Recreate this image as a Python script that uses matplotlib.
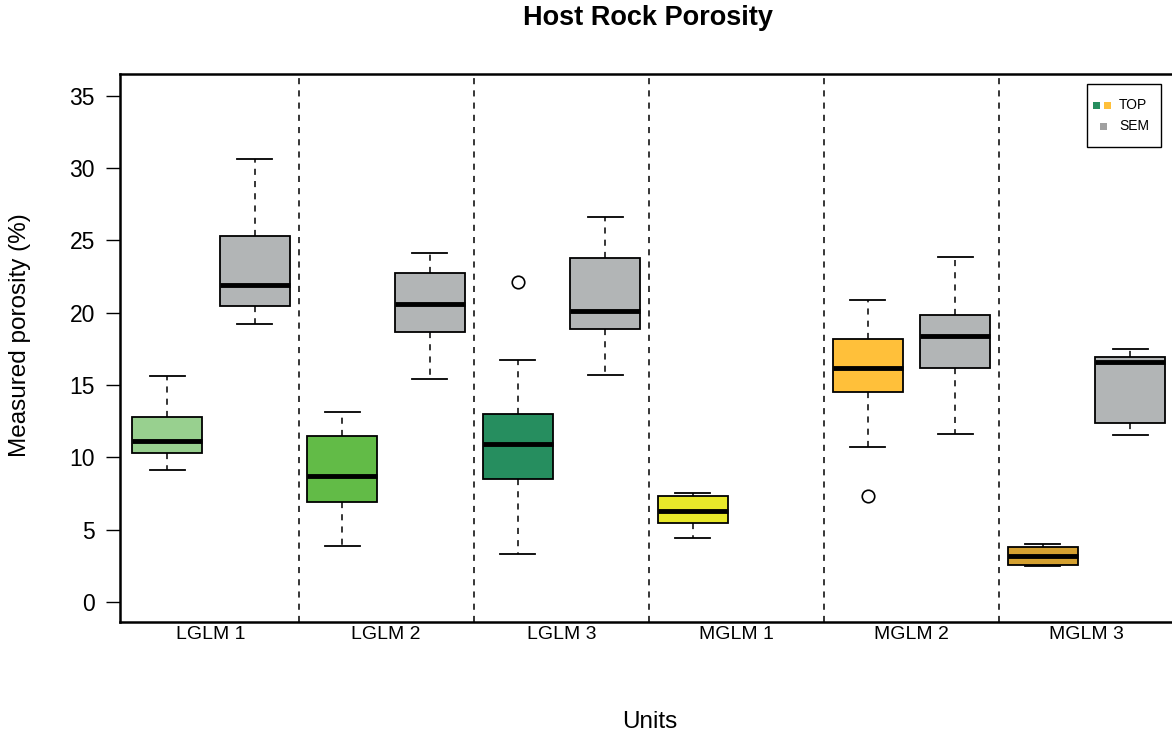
import matplotlib
matplotlib.use('Agg')
import matplotlib.pyplot as plt
from matplotlib.patches import Rectangle

plt.rcParams['font.family'] = ['Liberation Sans', 'DejaVu Sans']

# unit names along the x axis
units = ['LGLM 1', 'LGLM 2', 'LGLM 3', 'MGLM 1', 'MGLM 2', 'MGLM 3']
top_colors = ['#98d08f', '#62bb47', '#268e5f', '#e8e82a', '#ffc03a', '#d4a030']
sem_color = '#b2b5b6'

# TOP box statistics
top_whislo = [9.1, 3.85, 3.3, 4.4, 10.7, 2.5]
top_q1 = [10.3, 6.9, 8.5, 5.45, 14.5, 2.55]
top_med = [11.1, 8.7, 10.95, 6.3, 16.2, 3.2]
top_q3 = [12.8, 11.45, 13.0, 7.3, 18.2, 3.8]
top_whishi = [15.6, 13.15, 16.75, 7.55, 20.9, 4.0]
top_fliers = [[], [], [22.1], [], [7.3], []]

# SEM box statistics (no SEM data for MGLM 1)
sem_whislo = [19.2, 15.45, 15.7, None, 11.65, 11.55]
sem_q1 = [20.45, 18.7, 18.9, None, 16.2, 12.35]
sem_med = [21.9, 20.6, 20.15, None, 18.4, 16.6]
sem_q3 = [25.3, 22.75, 23.75, None, 19.85, 16.95]
sem_whishi = [30.6, 24.1, 26.6, None, 23.85, 17.5]
sem_fliers = [[], [], [], [], [], []]


def make_stats(lo, q1, med, q3, hi, fl):
    '''build the dicts that bxp wants'''
    stats = []
    for i in range(len(lo)):
        if lo[i] is None:
            stats.append(None)
        else:
            stats.append({'whislo': lo[i], 'q1': q1[i], 'med': med[i],
                          'q3': q3[i], 'whishi': hi[i], 'fliers': fl[i]})
    return stats


def draw(ax, stats, offset, colors):
    for i in range(len(stats)):
        if stats[i] is None:
            continue
        b = ax.bxp([stats[i]], positions=[i + 1 + offset], widths=0.4,
                   patch_artist=True, showcaps=True, manage_ticks=False,
                   boxprops=dict(facecolor=colors[i], edgecolor='black', linewidth=1.3),
                   medianprops=dict(color='black', linewidth=3.5, solid_capstyle='butt'),
                   whiskerprops=dict(color='black', linewidth=1.1, linestyle=(0, (4, 4))),
                   capprops=dict(color='black', linewidth=1.3),
                   flierprops=dict(marker='o', markerfacecolor='none',
                                   markeredgecolor='black', markersize=9,
                                   markeredgewidth=1.2))
        for c in b['caps']:
            x = c.get_xdata()
            m = (x[0] + x[1]) / 2
            c.set_xdata([m - 0.1, m + 0.1])


W, H = 1172, 737
fig = plt.figure(figsize=(W / 100, H / 100), dpi=100)
ax = fig.add_axes([0.1024, 0.156, 0.9016, 0.744])

draw(ax, make_stats(top_whislo, top_q1, top_med, top_q3, top_whishi, top_fliers), -0.25, top_colors)
draw(ax, make_stats(sem_whislo, sem_q1, sem_med, sem_q3, sem_whishi, sem_fliers), 0.25,
     [sem_color] * len(units))

# dashed separators between the units
for k in range(1, len(units)):
    ax.axvline(k + 0.5, color='black', linewidth=1.1, linestyle=(0, (4, 4)))

ax.set_xlim(0.48, 6.514)
ax.set_ylim(-1.38, 36.52)
ax.set_xticks(range(1, len(units) + 1))
ax.set_xticklabels(units, fontsize=14)
ax.set_yticks([0, 5, 10, 15, 20, 25, 30, 35])
ax.tick_params(axis='y', labelsize=16.5, length=10, width=1, direction='out', pad=8)
ax.tick_params(axis='x', length=0, pad=3)
for s in ['left', 'bottom', 'top']:
    ax.spines[s].set_linewidth(1.8)
ax.spines['right'].set_visible(False)

# titles placed in figure pixels
fig.text(648 / W, 1 - 18 / H, 'Host Rock Porosity', fontsize=19.5, fontweight='bold',
         ha='center', va='center')
fig.text(20 / W, 1 - 335 / H, 'Measured porosity (%)', fontsize=17.5, rotation=90,
         ha='center', va='center')
fig.text(650 / W, 1 - 722 / H, 'Units', fontsize=17.5, ha='center', va='center')

# legend drawn by hand
fig.add_artist(Rectangle((1087 / W, 1 - 147 / H), 74 / W, 63 / H, transform=fig.transFigure,
                         facecolor='white', edgecolor='black', linewidth=1.0, zorder=5))
for px, py, col in [(1096, 105, '#268e5f'), (1107.5, 105, '#ffc03a'), (1103, 126.5, '#a0a0a0')]:
    fig.add_artist(Rectangle(((px - 3.5) / W, 1 - (py + 3.5) / H), 7 / W, 7 / H,
                             transform=fig.transFigure, facecolor=col, edgecolor='none',
                             zorder=6))
fig.text(1119 / W, 1 - 105 / H, 'TOP', fontsize=10, ha='left', va='center', zorder=6)
fig.text(1119 / W, 1 - 126.5 / H, 'SEM', fontsize=10, ha='left', va='center', zorder=6)

fig.savefig('out.png', dpi=100)
